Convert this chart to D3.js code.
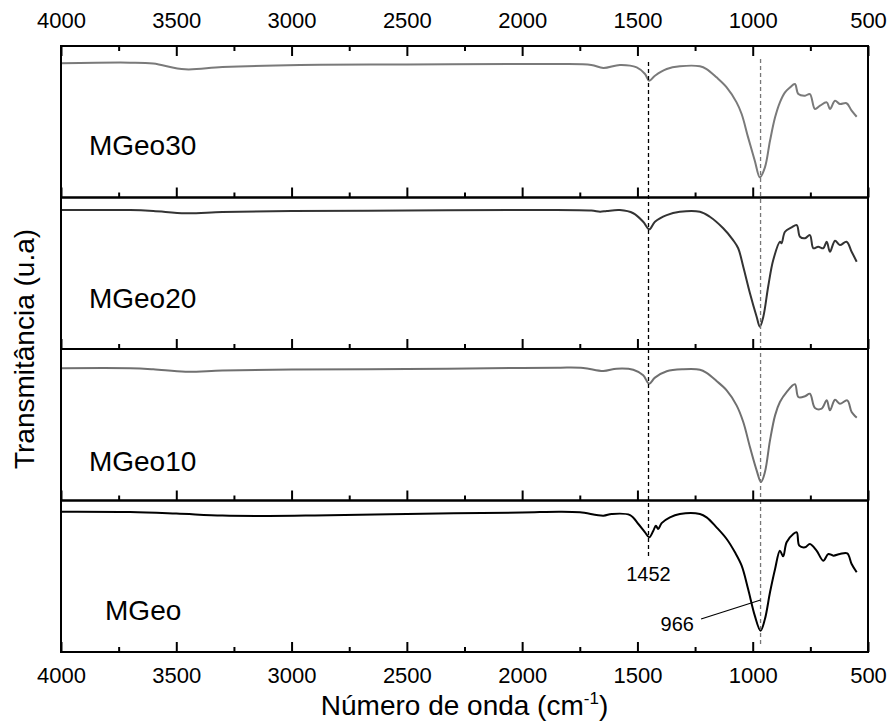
<!DOCTYPE html>
<html>
<head>
<meta charset="utf-8">
<script src="https://cdn.jsdelivr.net/npm/d3@7"></script>
<style>
  html, body { margin: 0; padding: 0; background: #fff; }
  svg { display: block; }
  text { font-family: "Liberation Sans", Arial, sans-serif; fill: #000; }
</style>
</head>
<body>
<svg id="chart" width="893" height="727"></svg>
<script>
// FTIR spectra: wavenumber (cm-1) and transmittance (arbitrary units, 0-100 per panel)
const wnMGeo30 = [4000,3700,3600,3462,3300,2963,2500,2000,1836,1700,1648,1576,1503,1467,1449,1424,1373,1316,1229,1200,1157,1113,1070,1048,1020,991,969,947,925,903,882,860,838,817,802,773,752,730,708,679,665,643,622,593,571,549];
const tMGeo30  = [88.6,89.0,88.4,84.6,86.1,87.5,87.8,88.1,88.1,87.5,85.5,87.5,85.9,81.5,77.1,80.4,84.8,86.6,86.6,84.8,79.3,72.7,62.8,55.1,39.7,24.3,13.3,19.9,37.5,52.9,62.8,69.4,72.7,74.9,68.3,67.2,68.3,58.4,60.6,62.8,58.4,63.9,61.7,62.2,57.3,53.3];

const wnMGeo20 = [4000,3700,3600,3460,3300,3000,2500,2000,1700,1662,1633,1576,1518,1475,1449,1424,1373,1316,1229,1186,1128,1085,1063,1041,1012,983,969,954,933,911,882,875,860,831,809,795,773,752,737,716,694,679,665,643,622,593,571,549];
const tMGeo20  = [91.7,91.7,91.1,89.6,90.4,91.1,91.4,91.7,91.4,90.6,91.1,91.7,89.6,84.0,79.0,84.0,88.4,90.6,90.6,87.3,79.7,71.9,66.5,54.3,36.8,21.3,14.7,21.3,41.1,58.7,70.8,69.8,77.4,80.3,81.8,74.1,73.1,75.2,66.5,67.5,66.5,70.8,64.2,71.5,68.6,70.8,64.2,57.6];

const wnMGeo10 = [4000,3700,3600,3460,3300,3000,2500,2000,1836,1735,1648,1590,1518,1475,1449,1424,1373,1301,1229,1200,1157,1113,1070,1041,1012,983,964,947,925,903,882,853,817,802,773,752,730,701,679,665,643,622,590,571,549];
const tMGeo10  = [87.3,87.3,86.6,85.0,85.8,86.5,86.8,87.5,87.7,87.5,85.5,87.0,86.3,82.6,77.1,81.1,85.3,86.6,86.3,84.2,78.9,72.7,62.8,51.8,35.3,19.9,12.2,18.8,39.7,56.2,65.0,71.6,76.7,68.3,68.8,70.5,61.1,60.6,66.1,59.5,66.5,63.9,66.1,58.4,54.7];

const wnMGeo = [4000,3700,3500,3300,3100,2900,2500,2000,1836,1749,1648,1612,1532,1496,1467,1449,1431,1420,1410,1395,1359,1316,1229,1200,1157,1113,1077,1048,1020,991,966,947,925,903,882,868,853,824,809,798,773,752,723,694,672,650,622,590,571,549];
const tMGeo  = [92.6,92.4,91.4,90.1,89.8,90.1,91.1,92.1,92.6,92.2,90.0,91.1,90.4,84.5,79.0,75.7,80.1,83.4,81.2,85.1,88.9,91.1,91.1,88.9,82.3,74.6,65.8,57.0,41.6,24.0,14.1,21.8,39.4,54.8,66.9,63.2,72.4,77.9,79.0,70.2,69.1,71.3,66.9,60.3,64.7,63.6,64.7,65.1,58.1,52.6];

// panels from top to bottom
const seriesNames  = ["MGeo30", "MGeo20", "MGeo10", "MGeo"];
const seriesColors = ["#7a7a7a", "#333333", "#707070", "#000000"];
const seriesWn     = [wnMGeo30, wnMGeo20, wnMGeo10, wnMGeo];
const seriesT      = [tMGeo30, tMGeo20, tMGeo10, tMGeo];
const labelWn      = [3879, 3879, 3879, 3809];
const labelT       = [28.1, 27.1, 19.5, 21.1];

// axis ticks
const majorTicks = [4000, 3500, 3000, 2500, 2000, 1500, 1000, 500];
const minorTicks = [3750, 3250, 2750, 2250, 1750, 1250, 750];

// band markers: wavenumber, start (top panel value), end (bottom panel value)
const bandWn     = [1452, 966];
const bandStartT = [89.4, 91.4];
const bandEndT   = [62.0, 5.3];
const bandColors = ["#000000", "#777777"];

// annotations in the bottom panel
const annot1452 = { text: "1452", wn: 1452, t: 46.9 };
const annot966  = { text: "966", wn: 1255, t: 13.9, fromWn: 1224, fromT: 21.8, toWn: 966, toT: 34.3 };

const svg = d3.select("#chart");
const margin = { left: 61, right: 25, top: 46, bottom: 75 };
const W = 893, H = 727;
const plotTop = margin.top, plotBottom = H - margin.bottom;
const panelH = (plotBottom - plotTop) / seriesNames.length;

const x = d3.scaleLinear().domain([4000, 500]).range([margin.left, W - margin.right]);
const yScales = seriesNames.map((_, i) =>
  d3.scaleLinear().domain([0, 100]).range([plotTop + (i + 1) * panelH, plotTop + i * panelH]));

// spectra
seriesNames.forEach((name, i) => {
  const pts = seriesWn[i].map((w, j) => [w, seriesT[i][j]]);
  const line = d3.line()
    .x(d => x(d[0]))
    .y(d => yScales[i](d[1]))
    .curve(d3.curveCatmullRom.alpha(0.5));
  svg.append("path")
    .datum(pts)
    .attr("d", line)
    .attr("fill", "none")
    .attr("stroke", seriesColors[i])
    .attr("stroke-width", 2)
    .attr("stroke-linejoin", "round");

  svg.append("text")
    .attr("x", x(labelWn[i]))
    .attr("y", yScales[i](labelT[i]))
    .attr("font-size", 28)
    .text(name);
});

// dashed band markers
bandWn.forEach((w, i) => {
  svg.append("line")
    .attr("x1", x(w)).attr("x2", x(w))
    .attr("y1", yScales[0](bandStartT[i]))
    .attr("y2", yScales[3](bandEndT[i]))
    .attr("stroke", bandColors[i])
    .attr("stroke-width", 1.3)
    .attr("stroke-dasharray", "4,3");
});

// annotations
svg.append("text")
  .attr("x", x(annot1452.wn))
  .attr("y", yScales[3](annot1452.t))
  .attr("text-anchor", "middle")
  .attr("font-size", 20)
  .text(annot1452.text);

svg.append("text")
  .attr("x", x(annot966.wn))
  .attr("y", yScales[3](annot966.t))
  .attr("text-anchor", "end")
  .attr("font-size", 20)
  .text(annot966.text);

svg.append("line")
  .attr("x1", x(annot966.fromWn)).attr("y1", yScales[3](annot966.fromT))
  .attr("x2", x(annot966.toWn)).attr("y2", yScales[3](annot966.toT))
  .attr("stroke", "#000").attr("stroke-width", 1.2);

// panel frames and ticks
seriesNames.forEach((_, i) => {
  const y0 = plotTop + i * panelH;
  svg.append("rect")
    .attr("x", margin.left).attr("y", y0)
    .attr("width", W - margin.right - margin.left).attr("height", panelH)
    .attr("fill", "none").attr("stroke", "#000").attr("stroke-width", 2);

  const isLast = i === seriesNames.length - 1;
  const gMaj = svg.append("g").attr("transform", `translate(0,${y0 + panelH})`)
    .call(d3.axisBottom(x).tickValues(majorTicks).tickSizeInner(-10).tickSizeOuter(0)
      .tickPadding(15).tickFormat(isLast ? d3.format("d") : ""));
  const gMin = svg.append("g").attr("transform", `translate(0,${y0 + panelH})`)
    .call(d3.axisBottom(x).tickValues(minorTicks).tickSizeInner(-5).tickSizeOuter(0).tickFormat(""));
  [gMaj, gMin].forEach(g => {
    g.select(".domain").remove();
    g.selectAll(".tick line").attr("stroke", "#000").attr("stroke-width", 2);
    g.selectAll(".tick text").attr("font-size", 22).attr("font-family", "Liberation Sans, Arial, sans-serif").attr("fill", "#000");
  });
});

// top axis
const gTop = svg.append("g").attr("transform", `translate(0,${plotTop})`)
  .call(d3.axisTop(x).tickValues(majorTicks).tickSizeInner(-10).tickSizeOuter(0)
    .tickPadding(18).tickFormat(d3.format("d")));
const gTopMin = svg.append("g").attr("transform", `translate(0,${plotTop})`)
  .call(d3.axisTop(x).tickValues(minorTicks).tickSizeInner(-5).tickSizeOuter(0).tickFormat(""));
[gTop, gTopMin].forEach(g => {
  g.select(".domain").remove();
  g.selectAll(".tick line").attr("stroke", "#000").attr("stroke-width", 2);
  g.selectAll(".tick text").attr("font-size", 22).attr("font-family", "Liberation Sans, Arial, sans-serif").attr("fill", "#000");
});

// axis titles
const xTitle = svg.append("text")
  .attr("x", (margin.left + W - margin.right) / 2)
  .attr("y", 715)
  .attr("text-anchor", "middle")
  .attr("font-size", 28);
xTitle.append("tspan").text("Número de onda (cm");
xTitle.append("tspan").attr("font-size", 17).attr("dy", -11).text("-1");
xTitle.append("tspan").attr("dy", 11).text(")");

svg.append("text")
  .attr("transform", `translate(34,${(plotTop + plotBottom) / 2}) rotate(-90)`)
  .attr("text-anchor", "middle")
  .attr("font-size", 28)
  .text("Transmitância (u.a)");
</script>
</body>
</html>
